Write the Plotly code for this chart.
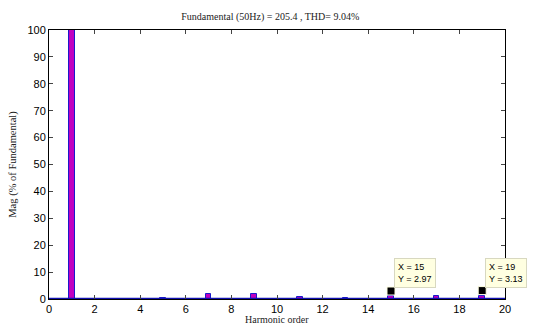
import plotly.graph_objects as go

harmonics = [0, 1, 2, 3, 4, 5, 6, 7, 8, 9, 10, 11, 12, 13, 14, 15, 16, 17, 18, 19, 20]
magnitude = [0.1, 100, 0.05, 0.05, 0.05, 0.3, 0.05, 1.9, 0.05, 2.0, 0.05, 0.7, 0.05, 0.2, 0.05, 1.0, 0.05, 1.0, 0.05, 1.3, 0.05]
tip_x = [15, 19]
tip_y = [2.97, 3.13]
x_ticks = list(range(0, 21, 2))
y_ticks = list(range(0, 101, 10))

fig = go.Figure()
fig.add_trace(go.Scatter(x=[0, 20], y=[0, 0], mode="lines",
                         line=dict(color="#1010b0", width=2.5), hoverinfo="skip"))
fig.add_trace(go.Bar(x=harmonics, y=magnitude, width=0.24,
                     marker=dict(color="#c000c0", line=dict(color="#1a1acc", width=1))))
fig.add_trace(go.Scatter(x=tip_x, y=tip_y, mode="markers",
                         marker=dict(symbol="square", size=8, color="black",
                                     line=dict(color="#ffffe1", width=1))))

for xv, yv in zip(tip_x, tip_y):
    fig.add_annotation(x=xv, y=yv, xref="x", yref="y",
                       text=f"X = {xv}<br>Y = {yv:.2f}", showarrow=False,
                       xanchor="left", yanchor="bottom", xshift=3, yshift=3,
                       align="left", bgcolor="#ffffe1", bordercolor="#d8d8c0",
                       borderwidth=1, borderpad=3,
                       font=dict(family="Arial, Liberation Sans", size=9, color="black"))

fig.add_annotation(x=0.5, y=0, xref="paper", yref="paper", yshift=-13,
                   text="Harmonic order", showarrow=False, yanchor="top",
                   font=dict(family="Times New Roman, Liberation Serif", size=10, color="#222"))

fig.update_layout(
    width=533, height=324,
    margin=dict(l=49, r=28, t=30, b=25),
    paper_bgcolor="white", plot_bgcolor="white",
    showlegend=False, bargap=0,
    title=dict(text="Fundamental (50Hz) = 205.4 , THD= 9.04%",
               font=dict(family="Times New Roman, Liberation Serif", size=10, color="#222"),
               x=0.507, xanchor="center", y=0.948, yanchor="middle"),
    xaxis=dict(range=[0, 20], tickvals=x_ticks, ticks="inside", ticklen=4,
               mirror="ticks", showline=True, linecolor="black", linewidth=1,
               showgrid=False, zeroline=False, automargin=False,
               tickfont=dict(family="Arial, Liberation Sans", size=11, color="black")),
    yaxis=dict(range=[0, 100], tickvals=y_ticks, ticks="inside", ticklen=4,
               mirror="ticks", showline=True, linecolor="black", linewidth=1,
               showgrid=False, zeroline=False, automargin=False,
               tickfont=dict(family="Arial, Liberation Sans", size=11, color="black"),
               title=dict(text="Mag (% of Fundamental)", standoff=8,
                          font=dict(family="Times New Roman, Liberation Serif", size=10.5, color="#222"))),
)

fig.write_html("out.html")
